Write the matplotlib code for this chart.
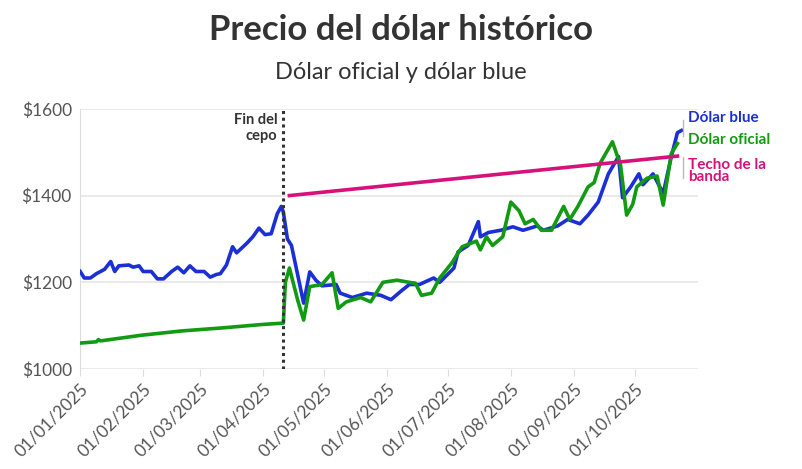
import matplotlib
matplotlib.use("Agg")
import matplotlib.pyplot as plt
import pandas as pd

start = pd.Timestamp("2025-01-01")

blue_day = [0,2,5,8,12,15,17,19,24,26,29,31,35,38,41,45,48,51,54,57,61,64,67,69,72,75,77,82,85,88,91,94,97,99,100,102,104,110,113,116,119,126,128,134,141,148,153,158,162,
            167,174,177,184,186,191,196,197,201,207,213,218,225,228,235,240,246,250,255,260,265,267,271,275,277,282,287,291,294,296]
blue_val = [1225,1210,1210,1220,1230,1248,1225,1238,1240,1235,1238,1225,1225,1208,1208,1225,1235,1222,1238,1225,1225,1212,1218,1220,1240,1282,1268,1290,1305,1325,1310,1312,1358,1375,1362,1300,1285,1152,1224,1205,1192,1195,1175,1165,1175,1170,1160,1180,1195,
            1195,1210,1200,1233,1270,1285,1340,1305,1315,1320,1328,1320,1330,1320,1330,1345,1335,1355,1385,1450,1490,1395,1420,1450,1425,1450,1405,1490,1545,1550]

green_day = [0,8,9,10,30,50,70,90,100,101,103,107,110,113,119,124,127,131,138,143,149,156,162,165,168,173,177,183,188,195,197,200,203,208,212,216,219,223,227,232,238,241,245,250,253,256,262,266,269,272,274,279,284,287,291,294]
green_val = [1060,1063,1068,1065,1078,1088,1095,1103,1106,1200,1233,1160,1113,1190,1195,1222,1140,1155,1165,1155,1200,1205,1200,1198,1170,1175,1210,1245,1282,1295,1275,1305,1285,1305,1385,1365,1335,1345,1320,1320,1375,1345,1375,1420,1430,1475,1524,1470,1355,1380,1420,1440,1445,1378,1497,1520]

band_day = [103, 294]
band_val = [1400, 1491]

cepo_day = 100
tick_dates = ["2025-01-01","2025-02-01","2025-03-01","2025-04-01","2025-05-01","2025-06-01","2025-07-01","2025-08-01","2025-09-01","2025-10-01"]
tick_labels = ["01/01/2025","01/02/2025","01/03/2025","01/04/2025","01/05/2025","01/06/2025","01/07/2025","01/08/2025","01/09/2025","01/10/2025"]

def to_dates(days):
    return [start + pd.Timedelta(days=d) for d in days]

plt.rcParams['font.family'] = ['Lato', 'DejaVu Sans']
BLUE, GREEN, PINK = "#1a2fd6", "#139a13", "#d6127a"

fig = plt.figure(figsize=(8.02, 4.69), dpi=100)
ax = fig.add_axes([0.1, 0.213, 0.77, 0.555])

ax.plot(to_dates(blue_day), blue_val, color=BLUE, lw=2.6, zorder=3)
ax.plot(to_dates(green_day), green_val, color=GREEN, lw=2.6, zorder=4)
ax.plot(to_dates(band_day), band_val, color=PINK, lw=2.6, zorder=5)
cx = start + pd.Timedelta(days=cepo_day)
ax.axvline(cx, color="#333333", lw=2.2, ls=(0, (1, 1.2)), zorder=6)
ax.text(start + pd.Timedelta(days=cepo_day-3), 1590, "Fin del\ncepo", ha="right", va="top",
        fontsize=10.5, fontweight="bold", color="#333333", linespacing=1.2)

ax.set_xlim(start, start + pd.Timedelta(days=304))
ax.set_ylim(1000, 1600)
ax.set_yticks([1000, 1200, 1400, 1600])
ax.set_yticklabels(["$1000", "$1200", "$1400", "$1600"])
ax.set_xticks(pd.to_datetime(tick_dates))
ax.set_xticklabels(tick_labels, rotation=45, ha="right", rotation_mode="anchor")
ax.tick_params(axis="y", length=0, labelsize=12.5, colors="#555555", pad=6)
ax.tick_params(axis="x", length=5, color="#dddddd", labelsize=12.5, colors="#555555")
ax.grid(axis="y", color="#e6e6e6", lw=1.2)
for s in ["top", "right", "bottom"]:
    ax.spines[s].set_visible(False)
ax.spines["left"].set_color("#dddddd")
ax.set_axisbelow(True)

fig.text(0.5, 0.936, "Precio del dólar histórico", ha="center", va="center", fontsize=25, fontweight="bold", color="#333333")
fig.text(0.5, 0.846, "Dólar oficial y dólar blue", ha="center", va="center", fontsize=17, color="#333333")

lx = 0.858
fig.text(lx, 0.748, "Dólar blue", fontsize=11, fontweight="bold", color=BLUE, va="center")
fig.text(lx, 0.702, "Dólar oficial", fontsize=11, fontweight="bold", color=GREEN, va="center")
fig.text(lx, 0.635, "Techo de la\nbanda", fontsize=11, fontweight="bold", color=PINK, va="center", linespacing=0.85)
# small grey brackets linking labels to line ends
for y0, y1 in [(0.745, 0.71), (0.665, 0.62)]:
    fig.add_artist(plt.Line2D([0.852, 0.852], [y0, y1], color="#bbbbbb", lw=1))

fig.savefig("out.png", dpi=100)
